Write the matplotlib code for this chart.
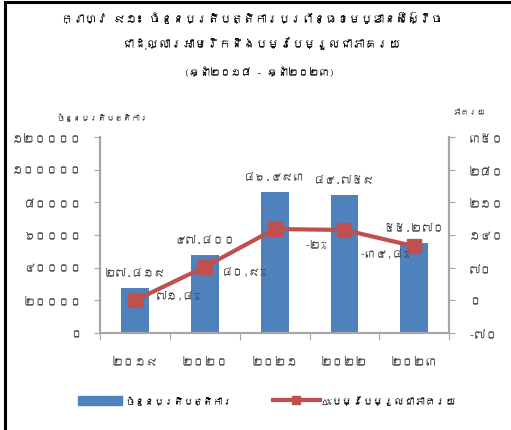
"""
Khmer chart: number of transactions (bars) and cumulative % change (line), 2019-2023.
"""
import matplotlib
matplotlib.use("Agg")
import matplotlib.pyplot as plt
from matplotlib import font_manager
from matplotlib.lines import Line2D
from matplotlib.patches import Patch

# ============================================
# Data
# ============================================
years = ["២០១៩", "២០២០", "២០២១", "២០២២", "២០២៣"]
transactions = [27819, 47800, 86493, 84759, 55270]
bar_labels = ["២៧.៨១៩", "៤៧.៨០០", "៨៦.៤៩៣", "៨៤.៧៥៩", "៥៥.២៧០"]
pct_line = [0, 71.8, 152.7, 150.7, 115.9]
# each change label sits to the right of the previous point
pct_labels = ["៧១,៨%", "៨០,៩%", "-២%", "-៣៤,៨%"]

left_ticks = [0, 20000, 40000, 60000, 80000, 100000, 120000]
left_tick_labels = ["០", "២០០០០", "៤០០០០", "៦០០០០", "៨០០០០", "១០០០០០", "១២០០០០"]
right_ticks = [-70, 0, 70, 140, 210, 280, 350]
right_tick_labels = ["-៧០", "០", "៧០", "១៤០", "២១០", "២៨០", "៣៥០"]

title_lines = [
    "ក្រាហ្វ ៩១៖ ចំនួនប្រតិបត្តិការប្រព័ន្ធខេមបូឌានស៊ែស៊្វីច",
    "ជាដុល្លារអាមេរិកនិងបម្រែបម្រួលជាភាគរយ",
    "(ឆ្នាំ២០១៨ - ឆ្នាំ២០២៣)",
]
bar_name = "ចំនួនប្រតិបត្តិការ"
line_name = "Δ%បម្រែបម្រួលជាភាគរយ"
right_axis_name = "ភាគរយ"

# ============================================
# Font: look for anything that covers Khmer
# ============================================
khmer_fonts = []
try:
    from fontTools.ttLib import TTFont
    for f in font_manager.fontManager.ttflist:
        try:
            tt = TTFont(f.fname, fontNumber=0, lazy=True)
            if 0x1780 in tt.getBestCmap():
                khmer_fonts.append(f.name)
        except Exception:
            pass
except Exception:
    pass
families = list(dict.fromkeys(khmer_fonts)) + ["DejaVu Sans"]
plt.rcParams["font.family"] = families

blue = "#4F81BD"
red = "#C0504D"
gray = "#A6A6A6"
txt = "#404040"

# ============================================
# Plot
# ============================================
fig = plt.figure(figsize=(5.11, 4.31), dpi=100)
ax = fig.add_axes([0.196, 0.225, 0.683, 0.455])
ax2 = ax.twinx()

x = list(range(len(years)))
ax.bar(x, transactions, width=0.4, color=blue, zorder=2)
ax.set_ylim(0, 120000)
ax.set_xlim(-0.5, len(years) - 0.5)
ax.set_yticks(left_ticks)
ax.set_yticklabels(left_tick_labels, fontsize=8.5, color=txt)
ax.set_xticks([i - 0.5 for i in range(len(years) + 1)])
ax.set_xticklabels([])
ax.set_xticks(x, minor=True)
ax.set_xticklabels(years, minor=True, fontsize=8.5, color=txt)
ax.tick_params(axis="x", which="minor", length=0, pad=16)
ax.tick_params(axis="x", which="major", length=5, color=gray)
ax.tick_params(axis="y", length=4, color=gray, pad=9)

for i, v in enumerate(transactions):
    ax.annotate(bar_labels[i], (i, v), xytext=(0, 15), textcoords="offset pixels",
                ha="center", va="center", fontsize=8, color=txt)

ax2.plot(x, pct_line, color=red, linewidth=3, marker="s", markersize=9.5,
         zorder=3)
ax2.set_ylim(-70, 350)
ax2.set_yticks(right_ticks)
ax2.set_yticklabels(right_tick_labels, fontsize=8.5, color=txt)
ax2.tick_params(axis="y", length=4, color=gray, pad=10)

label_offsets = [(43, 5), (39, -4), (41, -15), (40, -23)]
for i, lab in enumerate(pct_labels):
    ax2.annotate(lab, (i, pct_line[i]), xytext=label_offsets[i],
                 textcoords="offset pixels", ha="center", va="center",
                 fontsize=8, color=txt)

for a in (ax, ax2):
    a.spines["top"].set_visible(False)
    for s in ("left", "right", "bottom"):
        a.spines[s].set_color(gray)
        a.spines[s].set_linewidth(1.5)

# axis names
fig.text(0.2, 0.728, bar_name, ha="center", va="center", fontsize=6,
         color=txt)
fig.text(0.918, 0.737, right_axis_name, ha="center", va="center", fontsize=6,
         color=txt)

# title
fig.text(0.493, 0.958, title_lines[0], ha="center", va="center", fontsize=8.5,
         fontweight="bold")
fig.text(0.511, 0.900, title_lines[1], ha="center", va="center", fontsize=8.7,
         fontweight="bold")
fig.text(0.507, 0.833, title_lines[2], ha="center", va="center", fontsize=7.5)

# legend, two parts placed like the original
leg1 = fig.legend([Patch(color=blue)], [bar_name], loc="center left",
                  bbox_to_anchor=(0.1526, 0.07), frameon=False, fontsize=7,
                  handlelength=4.5, handleheight=1.1, handletextpad=0.4,
                  borderpad=0, borderaxespad=0)
leg2 = fig.legend([Line2D([], [], color=red, linewidth=3, marker="s",
                          markersize=6)],
                  [line_name], loc="center left",
                  bbox_to_anchor=(0.534, 0.07), frameon=False, fontsize=7.5,
                  handlelength=4.5, handletextpad=0.2,
                  borderpad=0, borderaxespad=0)

# black frame on top and left
fig.add_artist(Line2D([0.01, 1.0], [0.993, 0.993], color="black",
                      linewidth=2.2, transform=fig.transFigure))
fig.add_artist(Line2D([0.01, 0.01], [0.0, 0.993], color="black",
                      linewidth=2.2, transform=fig.transFigure))

fig.savefig("out.png", dpi=100)
